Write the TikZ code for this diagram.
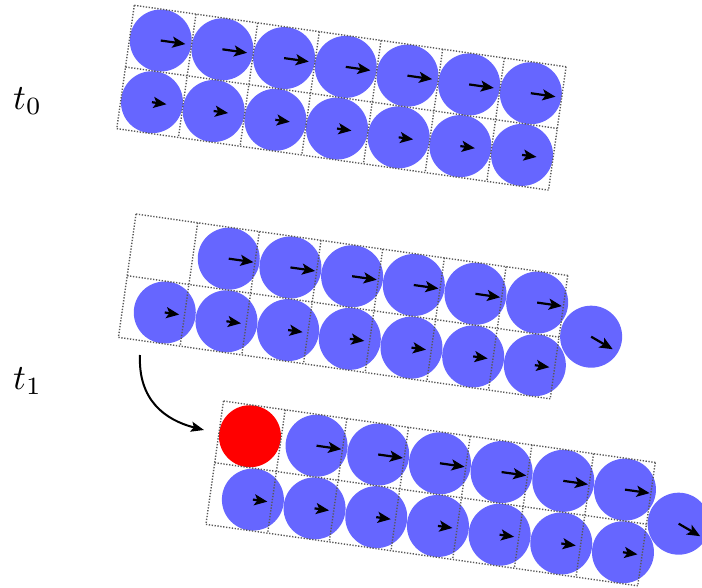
\documentclass[tikz,border=0pt]{standalone}
\usepackage{graphicx}
\usetikzlibrary{arrows.meta}
\definecolor{ballblue}{RGB}{102,102,255}
\tikzset{
  ball/.style={circle, fill=ballblue, minimum size=62pt, inner sep=0pt, draw=none},
  redball/.style={ball, fill=red},
  vel/.style={line width=2.2pt, -{Stealth[length=13pt,width=11pt,inset=3pt]}},
  gridline/.style={black!65, line width=1.4pt, dash pattern=on 1.3pt off 1.6pt},
  lbl/.style={inner sep=0pt, anchor=base west},
  bendarrow/.style={line width=2pt, -{Stealth[length=13pt,width=10pt,inset=2.5pt]}},
  cell/.style={x={(61.68pt,-8.78pt)}, y={(-8.78pt,-61.68pt)}}
}
\begin{document}
\begin{tikzpicture}[x=1pt,y=-1pt]
\useasboundingbox (0,0) rectangle (702,587);

% labels
\node[lbl] (t0) at (13,109) {\scalebox{3.55}{$t_0$}};
\node[lbl] (t1) at (13,389) {\scalebox{3.55}{$t_1$}};

% t0 grid
\begin{scope}[shift={(134.3pt,-5.3pt)}, cell]
  \foreach \i in {0,...,6} {
    \node[ball] (a0\i) at (\i+0.5,0.5) {};
    \node[ball] (b0\i) at (\i+0.5,1.5) {};
  }
  \foreach \i in {0,...,7} \draw[gridline] (\i,0) -- (\i,2);
  \foreach \j in {0,1,2} \draw[gridline] (0,\j) -- (7,\j);
  \foreach \i in {0,...,6} {
    \draw[vel] (a0\i.center) -- ++(0.4,0);
    \draw[vel] (b0\i.center) -- ++(0.235,0);
  }
\end{scope}

% t1 grid (upper)
\begin{scope}[shift={(136pt,-214pt)}, cell]
  \foreach \i in {1,...,6} \node[ball] (a1\i) at (\i+0.575,0.5) {};
  \foreach \i in {0,...,6} \node[ball] (b1\i) at (\i+0.68,1.5) {};
  \node[ball] (e1) at (7.51,0.92) {};
  \foreach \i in {0,...,7} \draw[gridline] (\i,0) -- (\i,2);
  \foreach \j in {0,1,2} \draw[gridline] (0,\j) -- (7,\j);
  \foreach \i in {1,...,6} \draw[vel] (a1\i.center) -- ++(0.4,0);
  \foreach \i in {0,...,6} \draw[vel] (b1\i.center) -- ++(0.235,0);
  \draw[vel] (e1.center) -- ++(0.371,0.15);
\end{scope}

% t1 grid (lower)
\begin{scope}[shift={(223.5pt,-401pt)}, cell]
  \node[redball] (r2) at (0.5,0.5) {};
  \foreach \i in {1,...,6} \node[ball] (a2\i) at (\i+0.58,0.5) {};
  \foreach \i in {0,...,6} \node[ball] (b2\i) at (\i+0.69,1.5) {};
  \node[ball] (e2) at (7.51,0.92) {};
  \foreach \i in {0,...,7} \draw[gridline] (\i,0) -- (\i,2);
  \foreach \j in {0,1,2} \draw[gridline] (0,\j) -- (7,\j);
  \foreach \i in {1,...,6} \draw[vel] (a2\i.center) -- ++(0.4,0);
  \foreach \i in {0,...,6} \draw[vel] (b2\i.center) -- ++(0.235,0);
  \draw[vel] (e2.center) -- ++(0.371,0.15);
\end{scope}

% curved transition arrow
\coordinate (cs) at (140,355);
\coordinate (ce) at (204,430);
\draw[bendarrow] (cs) .. controls (138,400) and (165,420) .. (ce);
\end{tikzpicture}
\end{document}
